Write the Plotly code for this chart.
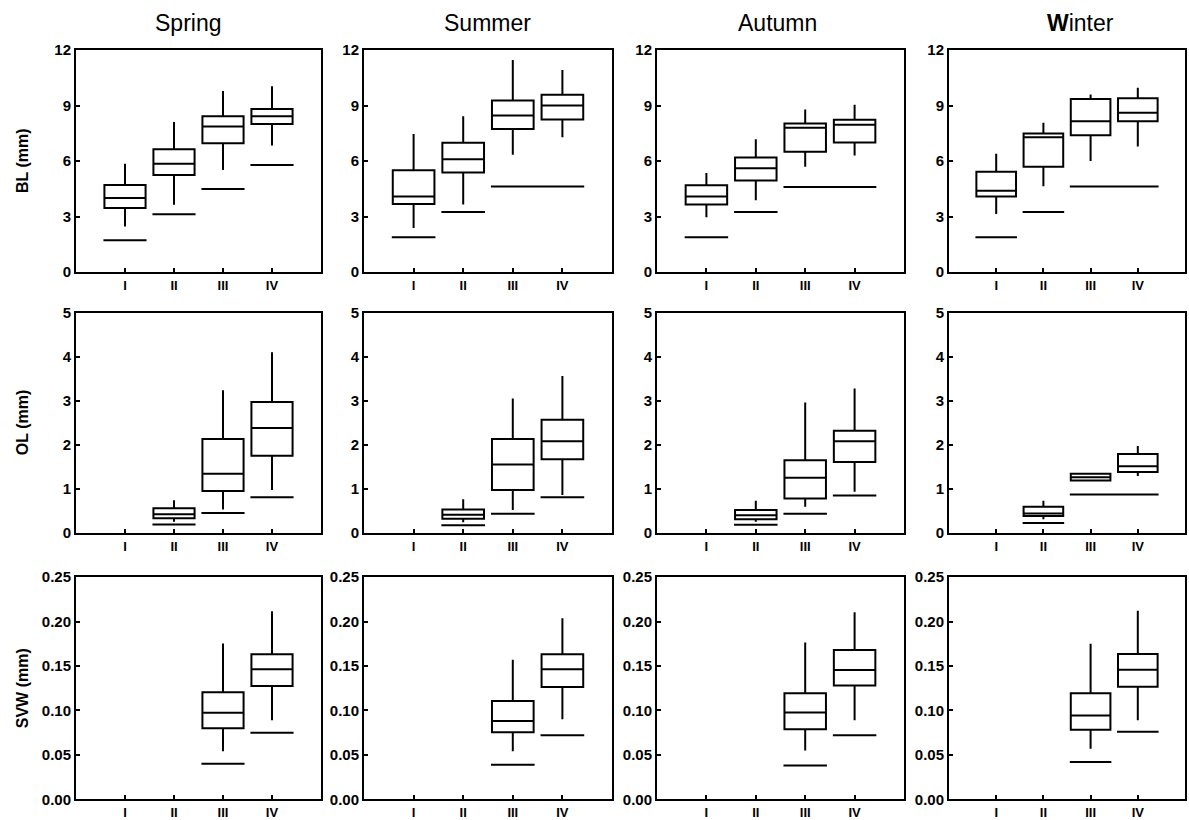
import plotly.graph_objects as go

W, H = 1189, 820

SEASONS = ["Spring", "Summer", "Autumn", "Winter"]
SEASON_LABELS = ["Spring", "Summer", "Autumn", "<b>W</b>inter"]
STAGES = ["I", "II", "III", "IV"]
METRICS = ["BL (mm)", "OL (mm)", "SVW (mm)"]

# five-number summaries per stage: (low whisker, q1, median, q3, high whisker)
BL_SPRING = [(2.46, 3.46, 4.00, 4.71, 5.85), (3.64, 5.25, 5.85, 6.64, 8.11),
             (5.52, 6.97, 7.87, 8.42, 9.79), (6.84, 8.00, 8.42, 8.81, 10.05)]
BL_SUMMER = [(2.38, 3.68, 4.08, 5.50, 7.47), (3.65, 5.38, 6.10, 6.99, 8.43),
             (6.34, 7.74, 8.47, 9.28, 11.46), (7.29, 8.25, 9.00, 9.58, 10.92)]
BL_AUTUMN = [(2.96, 3.65, 4.08, 4.69, 5.36), (3.88, 4.95, 5.61, 6.19, 7.18),
             (5.70, 6.50, 7.80, 8.03, 8.79), (6.30, 7.00, 7.96, 8.23, 9.04)]
BL_WINTER = [(3.14, 4.08, 4.40, 5.42, 6.39), (4.64, 5.70, 7.29, 7.49, 8.07),
             (6.01, 7.40, 8.16, 9.35, 9.60), (6.79, 8.16, 8.61, 9.39, 9.96)]

OL_SPRING = [None, (0.26, 0.34, 0.43, 0.57, 0.75),
             (0.54, 0.96, 1.35, 2.14, 3.25), (0.98, 1.76, 2.39, 2.98, 4.11)]
OL_SUMMER = [None, (0.25, 0.33, 0.42, 0.54, 0.77),
             (0.53, 0.98, 1.56, 2.14, 3.06), (0.87, 1.68, 2.09, 2.58, 3.57)]
OL_AUTUMN = [None, (0.26, 0.32, 0.41, 0.53, 0.74),
             (0.60, 0.79, 1.26, 1.66, 2.97), (0.94, 1.62, 2.09, 2.33, 3.29)]
OL_WINTER = [None, (0.32, 0.39, 0.45, 0.60, 0.74),
             (1.19, 1.20, 1.27, 1.35, 1.36), (1.30, 1.39, 1.52, 1.80, 1.98)]

SVW_SPRING = [None, None, (0.054, 0.080, 0.0975, 0.1205, 0.1755),
              (0.089, 0.1276, 0.1465, 0.1634, 0.2116)]
SVW_SUMMER = [None, None, (0.054, 0.0755, 0.0882, 0.1107, 0.157),
              (0.090, 0.1265, 0.1464, 0.1633, 0.2038)]
SVW_AUTUMN = [None, None, (0.055, 0.0788, 0.0976, 0.1194, 0.1764),
              (0.089, 0.128, 0.1456, 0.1682, 0.2106)]
SVW_WINTER = [None, None, (0.057, 0.0782, 0.0944, 0.1195, 0.1752),
              (0.089, 0.1267, 0.1459, 0.1635, 0.2124)]

# minimum reference lines per stage
BL_MIN_SPRING = [1.72, 3.13, 4.49, 5.79]
BL_MIN_SUMMER = [1.88, 3.25, 4.62, 4.62]
BL_MIN_AUTUMN = [1.88, 3.25, 4.60, 4.60]
BL_MIN_WINTER = [1.88, 3.25, 4.62, 4.62]
OL_MIN_SPRING = [None, 0.20, 0.46, 0.82]
OL_MIN_SUMMER = [None, 0.18, 0.44, 0.82]
OL_MIN_AUTUMN = [None, 0.19, 0.44, 0.86]
OL_MIN_WINTER = [None, 0.23, 0.88, 0.88]
SVW_MIN_SPRING = [None, None, 0.040, 0.075]
SVW_MIN_SUMMER = [None, None, 0.039, 0.072]
SVW_MIN_AUTUMN = [None, None, 0.038, 0.072]
SVW_MIN_WINTER = [None, None, 0.042, 0.076]

BOXES = [[BL_SPRING, BL_SUMMER, BL_AUTUMN, BL_WINTER],
         [OL_SPRING, OL_SUMMER, OL_AUTUMN, OL_WINTER],
         [SVW_SPRING, SVW_SUMMER, SVW_AUTUMN, SVW_WINTER]]
MINS = [[BL_MIN_SPRING, BL_MIN_SUMMER, BL_MIN_AUTUMN, BL_MIN_WINTER],
        [OL_MIN_SPRING, OL_MIN_SUMMER, OL_MIN_AUTUMN, OL_MIN_WINTER],
        [SVW_MIN_SPRING, SVW_MIN_SUMMER, SVW_MIN_AUTUMN, SVW_MIN_WINTER]]

Y_RANGES = [[0, 12], [0, 5], [0, 0.25]]
Y_TICKS = [[0, 3, 6, 9, 12], [0, 1, 2, 3, 4, 5], [0, 0.05, 0.10, 0.15, 0.20, 0.25]]
Y_FORMAT = [None, None, ".2f"]

# layout (pixels)
COL_PX = [(76, 321), (364, 612), (657, 904), (949, 1185)]
ROW_PX = [(42, 269), (311, 536), (581, 808)]
TITLE_Y = 14
TITLE_X = [188, 487, 777, 1080]

BOX_W = 0.84
HALF = 0.44

fig = go.Figure()
layout = {}
annotations = []
tickfont = dict(family="Liberation Sans", size=15, color="black", weight=700)
xtickfont = dict(family="Liberation Sans", size=13, color="black", weight=700)

for r in range(3):
    for c in range(4):
        idx = r * 4 + c + 1
        xa = "x" if idx == 1 else f"x{idx}"
        ya = "y" if idx == 1 else f"y{idx}"
        stats = BOXES[r][c]
        xs, lo, q1, md, q3, hi = [], [], [], [], [], []
        for i, s in enumerate(stats):
            if s is None:
                continue
            xs.append(i + 1)
            lo.append(s[0]); q1.append(s[1]); md.append(s[2]); q3.append(s[3]); hi.append(s[4])
        fig.add_trace(go.Box(
            x=xs, q1=q1, median=md, q3=q3, lowerfence=lo, upperfence=hi,
            width=BOX_W, whiskerwidth=0, boxpoints=False,
            line=dict(color="black", width=2), fillcolor="rgba(255,255,255,0)",
            xaxis=xa, yaxis=ya, showlegend=False, hoverinfo="skip"))
        # reference lines, merging consecutive equal values
        mins = MINS[r][c]
        lx, ly = [], []
        i = 0
        while i < 4:
            v = mins[i]
            if v is None:
                i += 1
                continue
            j = i
            while j + 1 < 4 and mins[j + 1] == v:
                j += 1
            lx += [i + 1 - HALF, j + 1 + HALF, None]
            ly += [v, v, None]
            i = j + 1
        fig.add_trace(go.Scatter(x=lx, y=ly, mode="lines",
                                 line=dict(color="black", width=2),
                                 xaxis=xa, yaxis=ya, showlegend=False, hoverinfo="skip"))
        x0, x1 = COL_PX[c]
        y0, y1 = ROW_PX[r]
        xkey = "xaxis" if idx == 1 else f"xaxis{idx}"
        ykey = "yaxis" if idx == 1 else f"yaxis{idx}"
        layout[xkey] = dict(domain=[x0 / W, x1 / W], anchor=ya, range=[0, 5],
                            tickvals=[1, 2, 3, 4], ticktext=STAGES,
                            ticks="inside", ticklen=4, tickwidth=2, tickcolor="black",
                            showline=True, linecolor="black", linewidth=2, mirror=True,
                            showgrid=False, zeroline=False, tickfont=xtickfont, fixedrange=True)
        ydict = dict(domain=[1 - y1 / H, 1 - y0 / H], anchor=xa, range=Y_RANGES[r],
                     tickvals=Y_TICKS[r],
                     ticks="inside", ticklen=4, tickwidth=2, tickcolor="black",
                     showline=True, linecolor="black", linewidth=2, mirror=True,
                     showgrid=False, zeroline=False, tickfont=tickfont, fixedrange=True)
        if Y_FORMAT[r]:
            ydict["tickformat"] = Y_FORMAT[r]
        layout[ykey] = ydict

for c in range(4):
    annotations.append(dict(text=SEASON_LABELS[c], x=TITLE_X[c] / W, y=1 - TITLE_Y / H,
                            xref="paper", yref="paper", showarrow=False,
                            xanchor="center", yanchor="middle",
                            font=dict(family="Liberation Sans", size=23, color="black")))
for r in range(3):
    yc = (ROW_PX[r][0] + ROW_PX[r][1]) / 2
    annotations.append(dict(text=METRICS[r], x=22 / W, y=1 - yc / H,
                            xref="paper", yref="paper", showarrow=False, textangle=-90,
                            xanchor="center", yanchor="middle",
                            font=dict(family="Liberation Sans", size=16, color="black", weight=700)))

fig.update_layout(width=W, height=H, margin=dict(l=0, r=0, t=0, b=0),
                  paper_bgcolor="white", plot_bgcolor="white",
                  annotations=annotations, showlegend=False, **layout)

POST = (
    "var d=document.documentElement,b=document.body;"
    "d.style.margin='0';d.style.padding='0';d.style.height='820px';d.style.overflow='hidden';"
    "b.style.margin='0';b.style.padding='0';b.style.height='820px';b.style.overflow='hidden';"
    "var g=document.getElementById('{plot_id}');"
    "if(g&&g.parentElement){g.parentElement.style.height='820px';g.parentElement.style.overflow='hidden';"
    "g.parentElement.style.margin='0';}"
)
fig.write_html("out.html", config={"displayModeBar": False}, post_script=POST)
